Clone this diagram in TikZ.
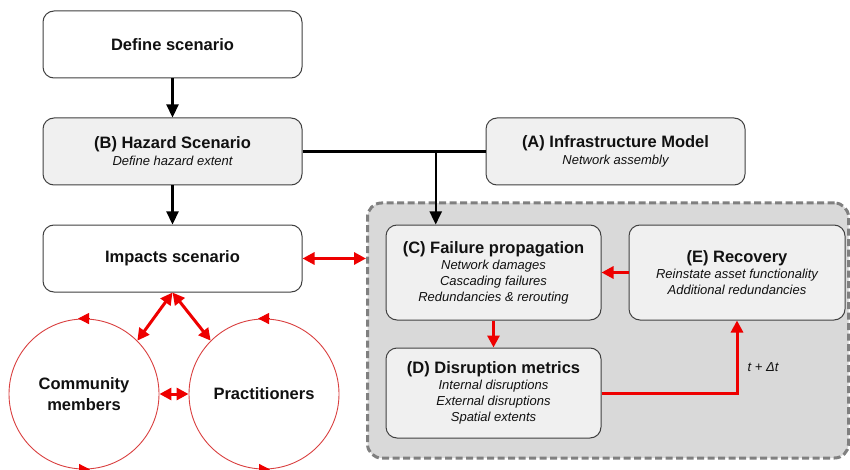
\documentclass[tikz,border=0pt]{standalone}
\usepackage{fontspec}
\setmainfont{Liberation Sans}
\usetikzlibrary{arrows.meta,calc}
\definecolor{boxfill}{HTML}{F0F0F0}
\definecolor{grpfill}{HTML}{D9D9D9}
\definecolor{grpline}{HTML}{808080}
\definecolor{myred}{HTML}{EE0000}
\definecolor{circred}{HTML}{D94040}
\definecolor{txt}{HTML}{111111}
\definecolor{boxline}{HTML}{404040}
\newcommand\mytitle[1]{{\upshape\bfseries\fontsize{16.5}{19}\selectfont #1}}
\begin{document}
\begin{tikzpicture}[x=1pt,y=-1pt,
  box/.style={draw=boxline, line width=1pt, rounded corners=11pt, fill=white, align=center,
    text=txt, minimum width=259pt, minimum height=67pt, inner sep=0pt,
    font=\fontsize{13}{16}\selectfont\itshape},
  gbox/.style={box, fill=boxfill},
  blk/.style={line width=2.2pt, -{Triangle[length=13pt,width=12pt]}},
  redarr/.style={draw=myred, line width=3pt, -{Triangle[length=12pt,width=12pt]}},
  reddbl/.style={draw=myred, line width=3pt, {Triangle[length=12pt,width=12pt]}-{Triangle[length=12pt,width=12pt]}},
  ring/.style={circle, draw=circred, line width=0.9pt, minimum size=150pt, inner sep=0pt,
    align=center, text=txt, font=\bfseries\fontsize{16.5}{21}\selectfont},
  ringtip/.style={draw=circred, line width=0.8pt, -{Triangle[length=11pt,width=11pt]}, myred}
]
\useasboundingbox (0,0) rectangle (850,470);

% group container
\node[draw=grpline, fill=grpfill, line width=3pt, dash pattern=on 7pt off 3.5pt,
  rounded corners=14pt, minimum width=481pt, minimum height=255pt] (grp) at (608,330.5) {};

% left column
\node[box] (def) at (172.5,44.5) {\mytitle{Define scenario}};
\node[gbox] (haz) at (172.5,151.5) {\mytitle{(B) Hazard Scenario}\\[1pt] Define hazard extent};
\node[box] (imp) at (172.5,258.5) {\mytitle{Impacts scenario}};
\node[gbox] (inf) at (615.5,151.5) {\mytitle{(A) Infrastructure Model}\\[1pt] Network assembly};

% inner boxes
\node[gbox, minimum width=215pt, minimum height=95pt] (cc) at (493.5,272.5)
  {\mytitle{(C) Failure propagation}\\ Network damages\\ Cascading failures\\ Redundancies \& rerouting};
\node[gbox, minimum width=216pt, minimum height=95pt] (ee) at (737,272.5)
  {\mytitle{(E) Recovery}\\ Reinstate asset functionality\\ Additional redundancies};
\node[gbox, minimum width=215pt, minimum height=90pt] (dd) at (493.5,393)
  {\mytitle{(D) Disruption metrics}\\ Internal disruptions\\ External disruptions\\ Spatial extents};

% circles
\node[ring] (cm) at (84,394) {Community\\members};
\node[ring] (pr) at (264,394) {Practitioners};
\draw[ringtip] ($(cm.north)+(5,0)$) -- ($(cm.north)+(-6,0)$);
\draw[ringtip] ($(cm.south)+(-5,0)$) -- ($(cm.south)+(6,0)$);
\draw[ringtip] ($(pr.north)+(5,0)$) -- ($(pr.north)+(-6,0)$);
\draw[ringtip] ($(pr.south)+(-5,0)$) -- ($(pr.south)+(6,0)$);

% black connectors
\draw[blk] (def) -- (haz);
\draw[blk] (haz) -- (imp);
\draw[line width=2.2pt] (haz.east) -- (inf.west);
\coordinate (j) at ($(haz.east)!0.728!(inf.west)$);
\draw[blk] (j) -- (j |- cc.north);

% red connectors
\draw[reddbl] (imp.east) -- (imp.east -| grp.west);
\draw[reddbl] (imp.south) -- (cm.45);
\draw[reddbl] (imp.south) -- (pr.135);
\draw[reddbl] (cm.east) -- (pr.west);
\draw[redarr] (cc) -- (dd);
\draw[redarr] (ee.west) -- (ee.west -| cc.east);
\draw[redarr] (dd.east) -| (ee.south);

\node[text=txt, font=\fontsize{13}{16}\selectfont\itshape] (dt) at (763,367) {t + Δt};
\end{tikzpicture}
\end{document}
